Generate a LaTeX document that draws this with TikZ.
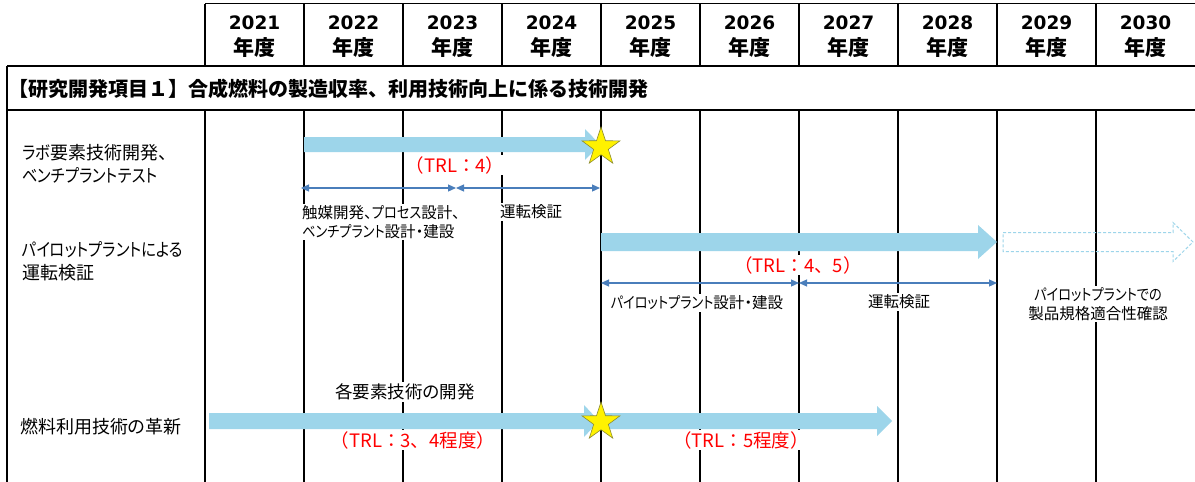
\documentclass[tikz,border=0pt]{standalone}
\usepackage{fontspec}
\setmainfont{Noto Sans CJK JP}
\newfontfamily\jpp{Noto Sans CJK JP}[RawFeature=+palt]
\newfontfamily\jpk{Noto Sans CJK JP}[RawFeature=+palt, FakeStretch=0.85]
\newfontfamily\dvs{DejaVu Sans}
\newcommand\kn[1]{{\jpk #1}}
\usetikzlibrary{arrows.meta,shapes.geometric}
\definecolor{barblue}{RGB}{157,213,234}
\definecolor{dimblue}{RGB}{74,126,187}
\definecolor{trlred}{RGB}{255,0,0}
\definecolor{starline}{RGB}{140,140,50}
\begin{document}
\begin{tikzpicture}[x=1pt,y=-1pt,
 grid/.style={line width=1.5pt, black},
 hdryear/.style={font=\dvs\bfseries\fontsize{18.5}{20}\selectfont, inner sep=0pt},
 hdrnendo/.style={font=\bfseries\fontsize{21}{22}\selectfont, inner sep=0pt},
 rowlabel/.style={font=\jpp\fontsize{18}{23}\selectfont, align=left, anchor=west, inner sep=0pt},
 note/.style={font=\jpp\fontsize{15.5}{18.5}\selectfont, fill=white, inner sep=2pt},
 trl/.style={font=\fontsize{18.5}{20}\selectfont, text=trlred, fill=white, inner sep=1.5pt},
 bar/.style={fill=barblue},
 dimline/.style={draw=dimblue, line width=1.2pt, {Triangle[length=8pt,width=7pt]}-{Triangle[length=8pt,width=7pt]}},
 milestone/.style={star, star points=5, star point ratio=2.6, minimum size=40pt, inner sep=0pt, fill=yellow, draw=starline, line width=0.6pt}
]
\useasboundingbox (0,0) rectangle (1195,482);
\fill[white] (0,0) rectangle (1195,482);
% grid
\draw[grid] (205,3.5) -- (1195,3.5);
\draw[grid] (7,66) -- (1195,66);
\draw[grid] (7,110) -- (1195,110);
\draw[grid] (7,66) -- (7,482);
\foreach \i in {0,...,9} {
  \draw[grid] (205+99*\i,3.5) -- (205+99*\i,66);
  \draw[grid] (205+99*\i,110) -- (205+99*\i,482);
}
% header
\foreach \i [evaluate=\i as \xx using 254.5+99*\i, evaluate=\i as \yr using int(2021+\i)] in {0,...,9} {
  \node[hdryear] (y\i) at (\xx,23) {\yr};
  \node[hdrnendo] (n\i) at (\xx,48) {年度};
}
\node[font=\bfseries\fontsize{20}{21}\selectfont, anchor=west, inner sep=0pt] (title) at (8,89) {【研究開発項目１】合成燃料の製造収率、利用技術向上に係る技術開発};
% row labels
\node[rowlabel] (lab1) at (22,163.5) {\kn{ラボ}要素技術開発、\\\kn{ベンチプラントテスト}};
\node[rowlabel] (lab2) at (22,261.5) {\kn{パイロットプラントによる}\\運転検証};
\node[rowlabel] (lab3) at (20,427) {燃料利用技術の革新};
% notes
\node[note, align=left, anchor=west] (nt1) at (300,222) {触媒開発、\kn{プロセス}設計、\\\kn{ベンチプラント}設計・建設};
\node[note, anchor=west] (nt2) at (498,212) {運転検証};
\node[note] (nt3) at (697,303) {\kn{パイロットプラント}設計・建設};
\node[note] (nt4) at (899,302) {運転検証};
\node[note, align=center] (nt5) at (1098,304) {\kn{パイロットプラントでの}\\製品規格適合性確認};
\node[note, font=\jpp\fontsize{17.5}{19}\selectfont] (nt6) at (405,392) {各要素技術の開発};
% TRL
\node[trl] (t1) at (455,165) {（TRL：4）};
\node[trl] (t2) at (798,265) {（TRL：4、5）};
\node[trl] (t3) at (413,440) {（TRL：3、4程度）};
\node[trl] (t4) at (741,440) {（TRL：5程度）};
% block arrows
\fill[bar] (304,137) -- (585,137) -- (585,129) -- (600,144.5) -- (585,160) -- (585,152) -- (304,152) -- cycle;
\fill[bar] (601,233) -- (978,233) -- (978,225) -- (997,242) -- (978,259) -- (978,251) -- (601,251) -- cycle;
\draw[barblue, dash pattern=on 3pt off 2pt, line width=1pt] (1003,232.5) -- (1173,232.5) -- (1173,222.5) -- (1193,242) -- (1173,261.5) -- (1173,251.5) -- (1003,251.5) -- cycle;
\fill[bar] (209,413) -- (584,413) -- (584,405) -- (599,421) -- (584,437) -- (584,429) -- (209,429) -- cycle;
\fill[bar] (601,413) -- (877,413) -- (877,406) -- (892,421) -- (877,436) -- (877,429) -- (601,429) -- cycle;
% milestones
\node[milestone] (s1) at (601,147) {};
\node[milestone] (s2) at (601,422) {};
% dimension arrows
\coordinate (d1a) at (301,188);
\coordinate (d1b) at (456,188);
\coordinate (d1c) at (600,188);
\coordinate (d2a) at (601,283);
\coordinate (d2b) at (799,283);
\coordinate (d2c) at (997,283);
\draw[dimline] (d1a) -- (d1b);
\draw[dimline] (d1b) -- (d1c);
\draw[dimline] (d2a) -- (d2b);
\draw[dimline] (d2b) -- (d2c);
\end{tikzpicture}
\end{document}
